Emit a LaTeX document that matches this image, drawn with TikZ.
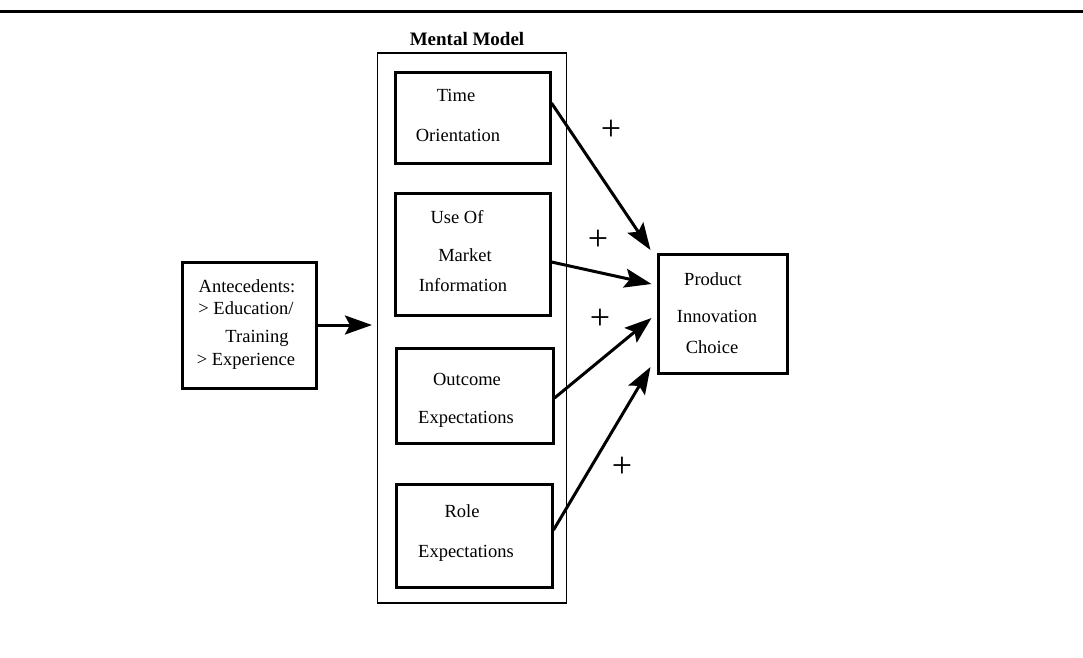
\documentclass[tikz,border=0pt]{standalone}
\usepackage{fontspec}
\setmainfont{Liberation Serif}
\usetikzlibrary{arrows.meta,calc}
\tikzset{
  inner/.style={draw, line width=3pt, minimum width=#1, inner sep=0pt},
  txt/.style={font=\fontsize{18.5}{22}\selectfont, inner sep=0pt, anchor=base},
  plus/.style={font=\fontsize{36}{36}\selectfont, inner sep=0pt},
  link/.style={line width=3pt, -{Stealth[length=27pt,width=19pt,inset=5pt]}},
}
\begin{document}
\begin{tikzpicture}[x=1pt,y=-1pt]
\useasboundingbox (0,0) rectangle (1083,657);
% page rule
\draw[line width=3pt] (0,11) -- (1083,11);

% mental model frame and its heading
\node[draw, line width=1.1pt, minimum width=189pt, minimum height=550pt, inner sep=0pt] (mm) at (472,328) {};
\node[txt, font=\fontsize{19}{22}\selectfont\bfseries] (mmtitle) at (467,45) {Mental Model};

% boxes inside the mental model
\node[inner=155pt, minimum height=91pt] (time) at (472.5,117.5) {};
\node[inner=155pt, minimum height=122pt] (use) at (472.5,254) {};
\node[inner=157pt, minimum height=95pt] (outc) at (474.5,395.5) {};
\node[inner=156pt, minimum height=103pt] (role) at (474,535.5) {};

\node[txt] (t1) at (456,101) {Time};
\node[txt] (t2) at (458,141) {Orientation};
\node[txt] (u1) at (457,223) {Use Of};
\node[txt] (u2) at (465,261) {Market};
\node[txt] (u3) at (463,291) {Information};
\node[txt] (o1) at (467,385) {Outcome};
\node[txt] (o2) at (466,423) {Expectations};
\node[txt] (r1) at (462,517) {Role};
\node[txt] (r2) at (466,557) {Expectations};

% antecedents
\node[inner=134pt, minimum height=126pt] (ante) at (249,325) {};
\node[txt] (a1) at (247,292) {Antecedents:};
\node[txt] (a2) at (246,314) {> Education/};
\node[txt] (a3) at (257,342) {Training};
\node[txt] (a4) at (246,365) {> Experience};

% outcome box
\node[inner=129pt, minimum height=119pt] (prod) at (722.5,313.5) {};
\node[txt] (p1) at (713,285) {Product};
\node[txt] (p2) at (717,322) {Innovation};
\node[txt] (p3) at (712,353) {Choice};

% connectors
\draw[link] (ante.east) -- ($(mm.west |- ante.east)+(-5,0)$);
\draw[link] ($(time.east)+(0,-14.5)$) -- ($(prod.west)+(-6,-63.5)$);
\draw[link] ($(use.east)+(0,8)$) -- ($(prod.west)+(-5,-29.5)$);
\draw[link] ($(outc.east)+(0,2.5)$) -- ($(prod.west)+(-5,4.5)$);
\draw[link] ($(role.east)+(0,-5.5)$) -- ($(prod.west)+(-6,53.5)$);

% signs of the effects
\node[plus] (s1) at (611,130) {+};
\node[plus] (s2) at (598,240) {+};
\node[plus] (s3) at (600,319) {+};
\node[plus] (s4) at (622,467) {+};
\end{tikzpicture}
\end{document}
